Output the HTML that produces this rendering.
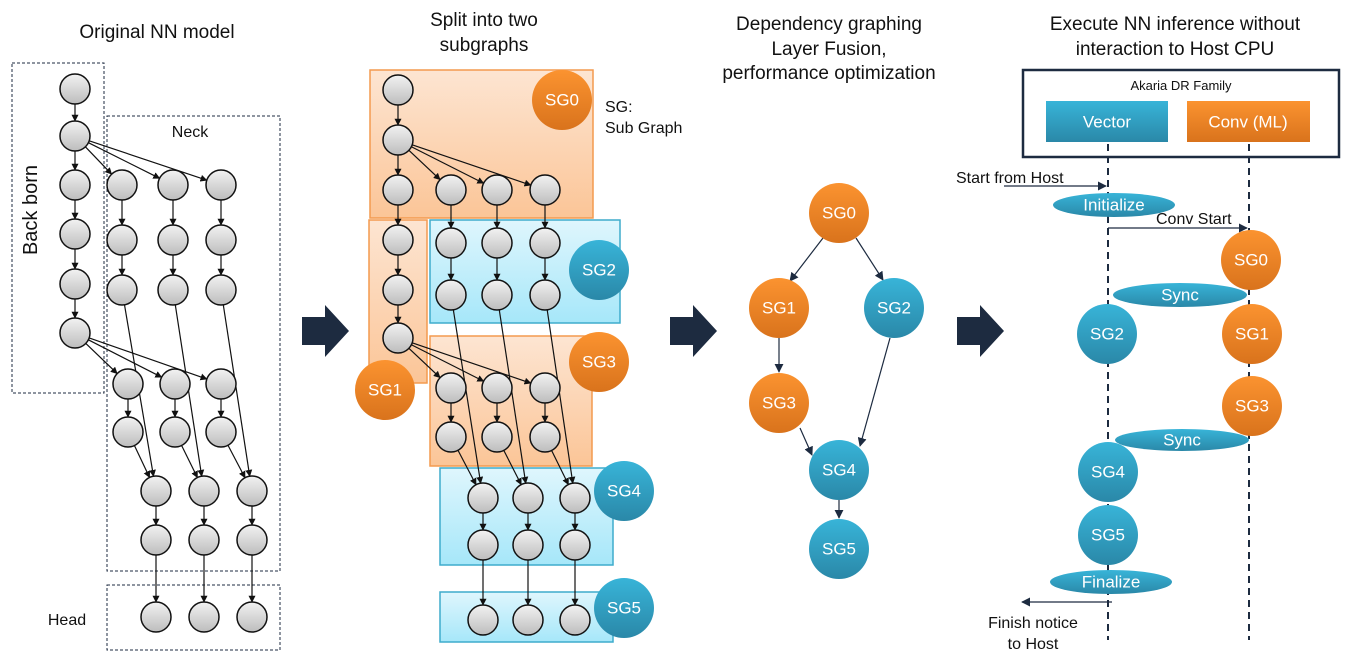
<!DOCTYPE html>
<html><head><meta charset="utf-8">
<style>
html,body{margin:0;padding:0;background:#fff;}
svg{display:block;font-family:"Liberation Sans","DejaVu Sans",sans-serif;}
.t{font-size:19px;fill:#111;}
.s{font-size:16px;fill:#111;}
.w{font-size:17px;fill:#fff;text-anchor:middle;dominant-baseline:central;}
</style></head>
<body>
<svg id="sv" width="1351" height="664" viewBox="0 0 1351 664" xmlns="http://www.w3.org/2000/svg">
<defs>
<linearGradient id="gn" x1="0" y1="0" x2="0" y2="1"><stop offset="0" stop-color="#f2f2f2"/><stop offset="1" stop-color="#bdbdbd"/></linearGradient>
<linearGradient id="go" x1="0" y1="0" x2="0" y2="1"><stop offset="0" stop-color="#fb9330"/><stop offset="1" stop-color="#d9731c"/></linearGradient>
<linearGradient id="gb" x1="0" y1="0" x2="0" y2="1"><stop offset="0" stop-color="#38b4d8"/><stop offset="1" stop-color="#2a88a8"/></linearGradient>
<linearGradient id="bo" x1="0" y1="0" x2="0" y2="1"><stop offset="0" stop-color="#fde5d2"/><stop offset="1" stop-color="#fbc597"/></linearGradient>
<linearGradient id="bb" x1="0" y1="0" x2="0" y2="1"><stop offset="0" stop-color="#dff6fd"/><stop offset="1" stop-color="#a6e7f9"/></linearGradient>
<marker id="ar" viewBox="0 0 10 10" refX="9" refY="5" markerWidth="7" markerHeight="7" orient="auto" markerUnits="userSpaceOnUse"><path d="M0,0L10,5L0,10z" fill="#111"/></marker>
<marker id="ar2" viewBox="0 0 10 10" refX="9" refY="5" markerWidth="9" markerHeight="9" orient="auto" markerUnits="userSpaceOnUse"><path d="M0,0L10,5L0,10z" fill="#1d2b40"/></marker>
</defs>

<!-- titles -->
<text class="t" x="157" y="38" text-anchor="middle">Original NN model</text>
<text class="t" x="484" y="26" text-anchor="middle">Split into two</text>
<text class="t" x="484" y="51" text-anchor="middle">subgraphs</text>
<text class="t" x="829" y="30" text-anchor="middle">Dependency graphing</text>
<text class="t" x="829" y="55" text-anchor="middle">Layer Fusion,</text>
<text class="t" x="829" y="79" text-anchor="middle">performance optimization</text>
<text class="t" x="1175" y="30" text-anchor="middle">Execute NN inference without</text>
<text class="t" x="1175" y="55" text-anchor="middle">interaction to Host CPU</text>

<!-- panel 1 boxes -->
<rect x="12" y="63" width="92" height="330" fill="none" stroke="#1d2b40" stroke-width="1" stroke-dasharray="3,2"/>
<rect x="107" y="116" width="173" height="455" fill="none" stroke="#1d2b40" stroke-width="1" stroke-dasharray="3,2"/>
<rect x="107" y="585" width="173" height="65" fill="none" stroke="#1d2b40" stroke-width="1" stroke-dasharray="3,2"/>
<text class="t" x="0" y="0" transform="translate(37,210) rotate(-90)" text-anchor="middle" style="font-size:20px">Back born</text>
<text class="s" x="190" y="137" text-anchor="middle">Neck</text>
<text class="s" x="67" y="625" text-anchor="middle">Head</text>

<!-- panel 2 boxes -->
<rect x="370" y="70" width="223" height="148" fill="url(#bo)" stroke="#f39a4f" stroke-width="1.5"/>
<rect x="369" y="220" width="58" height="163" fill="url(#bo)" stroke="#f39a4f" stroke-width="1.5"/>
<rect x="430" y="220" width="190" height="103" fill="url(#bb)" stroke="#3eaccc" stroke-width="1.5"/>
<rect x="430" y="336" width="162" height="130" fill="url(#bo)" stroke="#f39a4f" stroke-width="1.5"/>
<rect x="440" y="468" width="173" height="97" fill="url(#bb)" stroke="#3eaccc" stroke-width="1.5"/>
<rect x="440" y="592" width="173" height="50" fill="url(#bb)" stroke="#3eaccc" stroke-width="1.5"/>
<text class="s" x="605" y="112">SG:</text>
<text class="s" x="605" y="133">Sub Graph</text>

<g id="edges"></g>
<g id="nodes"></g>

<!-- SG circles panel 2 -->
<g>
<circle cx="562" cy="100" r="30" fill="url(#go)"/><text class="w" x="562" y="100">SG0</text>
<circle cx="599" cy="270" r="30" fill="url(#gb)"/><text class="w" x="599" y="270">SG2</text>
<circle cx="599" cy="362" r="30" fill="url(#go)"/><text class="w" x="599" y="362">SG3</text>
<circle cx="385" cy="390" r="30" fill="url(#go)"/><text class="w" x="385" y="390">SG1</text>
<circle cx="624" cy="491" r="30" fill="url(#gb)"/><text class="w" x="624" y="491">SG4</text>
<circle cx="624" cy="608" r="30" fill="url(#gb)"/><text class="w" x="624" y="608">SG5</text>
</g>

<!-- block arrows -->
<path d="M302,317H325V305L349,331L325,357V345H302Z" fill="#1d2b40"/>
<path d="M670,317H693V305L717,331L693,357V345H670Z" fill="#1d2b40"/>
<path d="M957,317H980V305L1004,331L980,357V345H957Z" fill="#1d2b40"/>

<!-- panel 3 -->
<g stroke="#1d2b40" stroke-width="1.2" marker-end="url(#ar2)">
<line x1="823" y1="238" x2="790" y2="281"/>
<line x1="856" y1="238" x2="883" y2="280"/>
<line x1="779" y1="338" x2="779" y2="372"/>
<line x1="800" y1="427" x2="815" y2="452" style="display:none"/>
<line x1="800" y1="428" x2="812" y2="455"/>
<line x1="890" y1="338" x2="860" y2="446"/>
<line x1="839" y1="500" x2="839" y2="518"/>
</g>
<g>
<circle cx="839" cy="213" r="30" fill="url(#go)"/><text class="w" x="839" y="213">SG0</text>
<circle cx="779" cy="308" r="30" fill="url(#go)"/><text class="w" x="779" y="308">SG1</text>
<circle cx="894" cy="308" r="30" fill="url(#gb)"/><text class="w" x="894" y="308">SG2</text>
<circle cx="779" cy="403" r="30" fill="url(#go)"/><text class="w" x="779" y="403">SG3</text>
<circle cx="839" cy="470" r="30" fill="url(#gb)"/><text class="w" x="839" y="470">SG4</text>
<circle cx="839" cy="549" r="30" fill="url(#gb)"/><text class="w" x="839" y="549">SG5</text>
</g>

<!-- panel 4 -->
<rect x="1023" y="70" width="316" height="87" fill="none" stroke="#1d2b40" stroke-width="2.5"/>
<text x="1181" y="90" text-anchor="middle" style="font-size:13px;fill:#111">Akaria DR Family</text>
<rect x="1046" y="101" width="122" height="41" fill="url(#gb)"/>
<text class="w" x="1107" y="122">Vector</text>
<rect x="1187" y="101" width="123" height="41" fill="url(#go)"/>
<text class="w" x="1248" y="122">Conv (ML)</text>
<line x1="1108" y1="144" x2="1108" y2="640" stroke="#1d2b40" stroke-width="2" stroke-dasharray="7,5"/>
<line x1="1249" y1="144" x2="1249" y2="640" stroke="#1d2b40" stroke-width="2" stroke-dasharray="7,5"/>
<text class="s" x="956" y="183">Start from Host</text>
<line x1="1004" y1="186" x2="1106" y2="186" stroke="#1d2b40" stroke-width="1.2" marker-end="url(#ar2)"/>
<ellipse cx="1114" cy="205" rx="61" ry="12" fill="url(#gb)"/><text class="w" x="1114" y="205">Initialize</text>
<text class="s" x="1156" y="224">Conv Start</text>
<line x1="1108" y1="228" x2="1247" y2="228" stroke="#1d2b40" stroke-width="1.2" marker-end="url(#ar2)"/>
<circle cx="1251" cy="260" r="30" fill="url(#go)"/><text class="w" x="1251" y="260">SG0</text>
<ellipse cx="1180" cy="295" rx="67" ry="12" fill="url(#gb)"/><text class="w" x="1180" y="295">Sync</text>
<circle cx="1107" cy="334" r="30" fill="url(#gb)"/><text class="w" x="1107" y="334">SG2</text>
<circle cx="1252" cy="334" r="30" fill="url(#go)"/><text class="w" x="1252" y="334">SG1</text>
<circle cx="1252" cy="406" r="30" fill="url(#go)"/><text class="w" x="1252" y="406">SG3</text>
<ellipse cx="1182" cy="440" rx="67" ry="11" fill="url(#gb)"/><text class="w" x="1182" y="440">Sync</text>
<circle cx="1108" cy="472" r="30" fill="url(#gb)"/><text class="w" x="1108" y="472">SG4</text>
<circle cx="1108" cy="535" r="30" fill="url(#gb)"/><text class="w" x="1108" y="535">SG5</text>
<ellipse cx="1111" cy="582" rx="61" ry="12" fill="url(#gb)"/><text class="w" x="1111" y="582">Finalize</text>
<line x1="1112" y1="602" x2="1022" y2="602" stroke="#1d2b40" stroke-width="1.2" marker-end="url(#ar2)"/>
<text class="s" x="1033" y="628" text-anchor="middle">Finish notice</text>
<text class="s" x="1033" y="649" text-anchor="middle">to Host</text>
</svg>
<script>
(function(){
var NS="http://www.w3.org/2000/svg",E=document.getElementById("edges"),N=document.getElementById("nodes"),R=15;
function node(x,y){var c=document.createElementNS(NS,"circle");c.setAttribute("cx",x);c.setAttribute("cy",y);c.setAttribute("r",R);c.setAttribute("fill","url(#gn)");c.setAttribute("stroke","#111");c.setAttribute("stroke-width","1.5");N.appendChild(c);}
function edge(a,b){var dx=b[0]-a[0],dy=b[1]-a[1],d=Math.sqrt(dx*dx+dy*dy),ux=dx/d,uy=dy/d;var l=document.createElementNS(NS,"line");
l.setAttribute("x1",a[0]+ux*R);l.setAttribute("y1",a[1]+uy*R);l.setAttribute("x2",b[0]-ux*R);l.setAttribute("y2",b[1]-uy*R);
l.setAttribute("stroke","#111");l.setAttribute("stroke-width","1.2");l.setAttribute("marker-end","url(#ar)");E.appendChild(l);}
function graph(bx,by,c1,c2,c3,c4,h){
 var pts=[];by.forEach(function(y){pts.push([bx,y]);});
 for(var i=0;i<by.length-1;i++)edge([bx,by[i]],[bx,by[i+1]]);
 for(var k=0;k<3;k++){
  var A=[c1.x[k],c1.y[0]],B=[c1.x[k],c1.y[1]],C=[c1.x[k],c1.y[2]];
  var D=[c2.x[k],c2.y[0]],F=[c2.x[k],c2.y[1]];
  var G=[c3.x[k],c3.y[0]],H=[c3.x[k],c3.y[1]],I=[c3.x[k],h];
  edge([bx,by[1]],A);edge(A,B);edge(B,C);edge(C,G);
  edge([bx,by[5]],D);edge(D,F);edge(F,G);edge(G,H);edge(H,I);
  pts.push(A,B,C,D,F,G,H,I);
 }
 pts.forEach(function(p){node(p[0],p[1]);});
}
graph(75,[89,136,185,234,284,333],{x:[122,173,221],y:[185,240,290]},{x:[128,175,221],y:[384,432]},{x:[156,204,252],y:[491,540]},null,617);
graph(398,[90,140,190,240,290,338],{x:[451,497,545],y:[190,243,295]},{x:[451,497,545],y:[388,437]},{x:[483,528,575],y:[498,545]},null,620);
})();
</script>
</body></html>
